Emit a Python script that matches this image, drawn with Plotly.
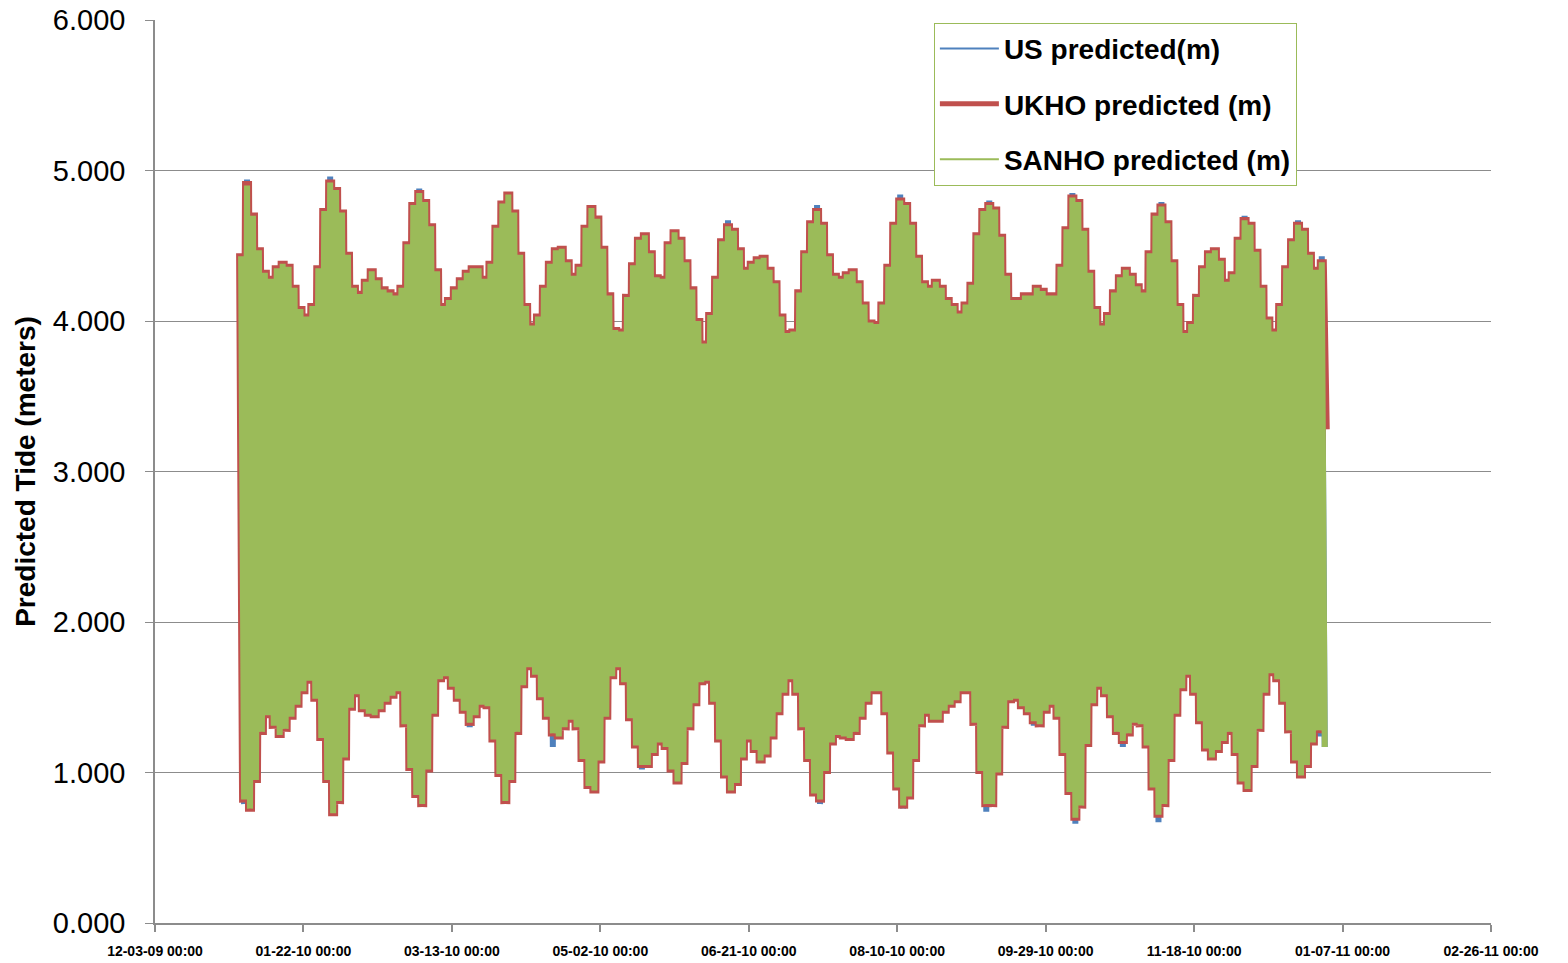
import pandas as pd
import plotly.graph_objects as go

# Daily time axis (one reading per day, alternating high water / low water envelope)
start_date = "2010-01-01"
n_days = 366

# UKHO predicted (m): high-water envelope on even days, low-water envelope on odd days
ukho_high = [
    4.45, 4.93, 4.72, 4.49, 4.34, 4.30, 4.37, 4.40, 4.38, 4.24,
    4.10, 4.05, 4.12, 4.37, 4.75, 4.94, 4.89, 4.74, 4.46, 4.24,
    4.20, 4.28, 4.35, 4.29, 4.23, 4.21, 4.19, 4.24, 4.53, 4.79,
    4.87, 4.81, 4.65, 4.35, 4.12, 4.16, 4.23, 4.29, 4.34, 4.37,
    4.37, 4.30, 4.40, 4.64, 4.80, 4.86, 4.74, 4.46, 4.12, 3.99,
    4.05, 4.24, 4.40, 4.49, 4.50, 4.41, 4.32, 4.38, 4.64, 4.77,
    4.70, 4.50, 4.19, 3.96, 3.95, 4.18, 4.39, 4.56, 4.59, 4.47,
    4.31, 4.30, 4.53, 4.61, 4.56, 4.41, 4.23, 4.02, 3.87, 4.06,
    4.30, 4.55, 4.65, 4.62, 4.49, 4.36, 4.40, 4.43, 4.44, 4.36,
    4.27, 4.05, 3.94, 3.95, 4.21, 4.47, 4.67, 4.75, 4.66, 4.45,
    4.32, 4.30, 4.33, 4.35, 4.27, 4.13, 4.01, 4.00, 4.13, 4.38,
    4.66, 4.82, 4.79, 4.66, 4.44, 4.27, 4.24, 4.28, 4.24, 4.16,
    4.12, 4.07, 4.13, 4.26, 4.59, 4.75, 4.79, 4.76, 4.58, 4.32,
    4.16, 4.16, 4.19, 4.19, 4.24, 4.22, 4.19, 4.19, 4.38, 4.63,
    4.84, 4.81, 4.62, 4.34, 4.10, 3.99, 4.06, 4.21, 4.31, 4.36,
    4.32, 4.25, 4.21, 4.47, 4.72, 4.78, 4.67, 4.41, 4.12, 3.94,
    4.00, 4.18, 4.37, 4.47, 4.49, 4.42, 4.28, 4.33, 4.56, 4.69,
    4.66, 4.48, 4.24, 4.03, 3.95, 4.12, 4.37, 4.55, 4.66, 4.62,
    4.46, 4.36, 4.41,
]
ukho_low = [
    0.80, 0.74, 0.93, 1.25, 1.36, 1.29, 1.23, 1.27, 1.35, 1.43,
    1.52, 1.59, 1.47, 1.21, 0.93, 0.71, 0.79, 1.08, 1.41, 1.50,
    1.40, 1.37, 1.36, 1.40, 1.45, 1.49, 1.52, 1.30, 1.01, 0.83,
    0.77, 1.00, 1.37, 1.60, 1.62, 1.55, 1.47, 1.39, 1.31, 1.36,
    1.43, 1.42, 1.20, 0.97, 0.79, 0.93, 1.25, 1.56, 1.68, 1.63,
    1.48, 1.35, 1.24, 1.22, 1.28, 1.33, 1.28, 1.07, 0.89, 0.86,
    1.06, 1.35, 1.62, 1.68, 1.58, 1.34, 1.16, 1.03, 1.03, 1.11,
    1.18, 1.15, 1.00, 0.92, 1.05, 1.28, 1.44, 1.58, 1.59, 1.45,
    1.20, 0.96, 0.86, 0.91, 1.08, 1.20, 1.13, 1.06, 1.10, 1.22,
    1.38, 1.51, 1.60, 1.51, 1.28, 1.07, 0.84, 0.80, 0.99, 1.18,
    1.23, 1.22, 1.21, 1.25, 1.35, 1.45, 1.52, 1.52, 1.38, 1.12,
    0.88, 0.76, 0.82, 1.07, 1.30, 1.37, 1.33, 1.33, 1.39, 1.43,
    1.46, 1.52, 1.52, 1.31, 0.99, 0.77, 0.77, 0.98, 1.29, 1.46,
    1.47, 1.42, 1.38, 1.32, 1.30, 1.39, 1.43, 1.35, 1.11, 0.85,
    0.68, 0.76, 1.17, 1.44, 1.55, 1.50, 1.36, 1.25, 1.19, 1.24,
    1.31, 1.30, 1.16, 0.88, 0.70, 0.77, 1.07, 1.37, 1.54, 1.63,
    1.51, 1.32, 1.14, 1.08, 1.13, 1.19, 1.25, 1.11, 0.92, 0.87,
    1.03, 1.27, 1.51, 1.64, 1.60, 1.45, 1.26, 1.06, 0.96, 1.03,
    1.18, 1.26, 3.28,
]

# SANHO predicted (m)
sanho_high = [
    4.43, 4.90, 4.70, 4.47, 4.32, 4.28, 4.35, 4.38, 4.36, 4.22,
    4.08, 4.03, 4.10, 4.35, 4.73, 4.92, 4.87, 4.72, 4.44, 4.22,
    4.18, 4.26, 4.33, 4.27, 4.21, 4.19, 4.17, 4.22, 4.51, 4.77,
    4.85, 4.79, 4.63, 4.33, 4.10, 4.14, 4.21, 4.27, 4.32, 4.35,
    4.35, 4.28, 4.38, 4.62, 4.78, 4.84, 4.72, 4.44, 4.10, 3.97,
    4.03, 4.22, 4.38, 4.47, 4.48, 4.39, 4.30, 4.36, 4.62, 4.75,
    4.68, 4.48, 4.17, 3.94, 3.93, 4.16, 4.37, 4.54, 4.57, 4.45,
    4.29, 4.28, 4.51, 4.59, 4.54, 4.39, 4.21, 4.00, 3.85, 4.04,
    4.28, 4.53, 4.63, 4.60, 4.47, 4.34, 4.38, 4.41, 4.42, 4.34,
    4.25, 4.03, 3.92, 3.93, 4.19, 4.45, 4.65, 4.73, 4.64, 4.43,
    4.30, 4.28, 4.31, 4.33, 4.25, 4.11, 3.99, 3.98, 4.11, 4.36,
    4.64, 4.80, 4.77, 4.64, 4.42, 4.25, 4.22, 4.26, 4.22, 4.14,
    4.10, 4.05, 4.11, 4.24, 4.57, 4.73, 4.77, 4.74, 4.56, 4.30,
    4.14, 4.14, 4.17, 4.17, 4.22, 4.20, 4.17, 4.17, 4.36, 4.61,
    4.82, 4.79, 4.60, 4.32, 4.08, 3.97, 4.04, 4.19, 4.29, 4.34,
    4.30, 4.23, 4.19, 4.45, 4.70, 4.76, 4.65, 4.39, 4.10, 3.92,
    3.98, 4.16, 4.35, 4.45, 4.47, 4.40, 4.26, 4.31, 4.54, 4.67,
    4.64, 4.46, 4.22, 4.01, 3.93, 4.10, 4.35, 4.53, 4.64, 4.60,
    4.44, 4.34, 4.39,
]
sanho_low = [
    0.82, 0.76, 0.95, 1.27, 1.38, 1.31, 1.25, 1.29, 1.37, 1.45,
    1.54, 1.61, 1.49, 1.23, 0.95, 0.73, 0.81, 1.10, 1.43, 1.52,
    1.42, 1.39, 1.38, 1.42, 1.47, 1.51, 1.54, 1.32, 1.03, 0.85,
    0.79, 1.02, 1.39, 1.62, 1.64, 1.57, 1.49, 1.41, 1.33, 1.38,
    1.45, 1.44, 1.22, 0.99, 0.81, 0.95, 1.27, 1.58, 1.70, 1.65,
    1.50, 1.37, 1.26, 1.24, 1.30, 1.35, 1.30, 1.09, 0.91, 0.88,
    1.08, 1.37, 1.64, 1.70, 1.60, 1.36, 1.18, 1.05, 1.05, 1.13,
    1.20, 1.17, 1.02, 0.94, 1.07, 1.30, 1.46, 1.60, 1.61, 1.47,
    1.22, 0.98, 0.88, 0.93, 1.10, 1.22, 1.15, 1.08, 1.12, 1.24,
    1.40, 1.53, 1.62, 1.53, 1.30, 1.09, 0.86, 0.82, 1.01, 1.20,
    1.25, 1.24, 1.23, 1.27, 1.37, 1.47, 1.54, 1.54, 1.40, 1.14,
    0.90, 0.78, 0.84, 1.09, 1.32, 1.39, 1.35, 1.35, 1.41, 1.45,
    1.48, 1.54, 1.54, 1.33, 1.01, 0.79, 0.79, 1.00, 1.31, 1.48,
    1.49, 1.44, 1.40, 1.34, 1.32, 1.41, 1.45, 1.37, 1.13, 0.87,
    0.70, 0.78, 1.19, 1.46, 1.57, 1.52, 1.38, 1.27, 1.21, 1.26,
    1.33, 1.32, 1.18, 0.90, 0.72, 0.79, 1.09, 1.39, 1.56, 1.65,
    1.53, 1.34, 1.16, 1.10, 1.15, 1.21, 1.27, 1.13, 0.94, 0.89,
    1.05, 1.29, 1.53, 1.66, 1.62, 1.47, 1.28, 1.08, 0.98, 1.05,
    1.20, 1.28, 1.17,
]

# US predicted (m)
us_high = [
    4.43, 4.94, 4.70, 4.47, 4.32, 4.28, 4.35, 4.38, 4.36, 4.22,
    4.08, 4.03, 4.10, 4.35, 4.73, 4.96, 4.87, 4.72, 4.44, 4.22,
    4.18, 4.26, 4.33, 4.27, 4.21, 4.19, 4.17, 4.22, 4.51, 4.77,
    4.88, 4.79, 4.63, 4.33, 4.10, 4.14, 4.21, 4.27, 4.32, 4.35,
    4.35, 4.28, 4.38, 4.62, 4.78, 4.84, 4.72, 4.44, 4.10, 3.97,
    4.03, 4.22, 4.38, 4.47, 4.48, 4.39, 4.30, 4.36, 4.62, 4.75,
    4.68, 4.48, 4.17, 3.94, 3.93, 4.16, 4.37, 4.54, 4.57, 4.45,
    4.29, 4.28, 4.51, 4.59, 4.54, 4.39, 4.21, 4.00, 3.85, 4.04,
    4.28, 4.53, 4.67, 4.60, 4.47, 4.34, 4.38, 4.41, 4.42, 4.34,
    4.25, 4.03, 3.92, 3.93, 4.19, 4.45, 4.65, 4.77, 4.64, 4.43,
    4.30, 4.28, 4.31, 4.33, 4.25, 4.11, 3.99, 3.98, 4.11, 4.36,
    4.64, 4.84, 4.77, 4.64, 4.42, 4.25, 4.22, 4.26, 4.22, 4.14,
    4.10, 4.05, 4.11, 4.24, 4.57, 4.73, 4.80, 4.74, 4.56, 4.30,
    4.14, 4.14, 4.17, 4.17, 4.22, 4.20, 4.17, 4.17, 4.36, 4.61,
    4.85, 4.79, 4.60, 4.32, 4.08, 3.97, 4.04, 4.19, 4.29, 4.34,
    4.30, 4.23, 4.19, 4.45, 4.70, 4.79, 4.65, 4.39, 4.10, 3.92,
    3.98, 4.16, 4.35, 4.45, 4.47, 4.40, 4.26, 4.31, 4.54, 4.70,
    4.64, 4.46, 4.22, 4.01, 3.93, 4.10, 4.35, 4.53, 4.67, 4.60,
    4.44, 4.34, 4.43,
]
us_low = [
    0.79, 0.76, 0.95, 1.27, 1.38, 1.31, 1.25, 1.29, 1.37, 1.45,
    1.54, 1.61, 1.49, 1.23, 0.95, 0.73, 0.81, 1.10, 1.43, 1.52,
    1.42, 1.39, 1.38, 1.42, 1.47, 1.51, 1.54, 1.32, 1.03, 0.85,
    0.79, 1.02, 1.39, 1.62, 1.64, 1.57, 1.49, 1.41, 1.30, 1.38,
    1.45, 1.44, 1.22, 0.99, 0.81, 0.95, 1.27, 1.58, 1.70, 1.65,
    1.50, 1.37, 1.17, 1.24, 1.30, 1.35, 1.30, 1.09, 0.91, 0.88,
    1.08, 1.37, 1.64, 1.70, 1.60, 1.36, 1.18, 1.02, 1.05, 1.13,
    1.20, 1.17, 1.02, 0.94, 1.07, 1.30, 1.46, 1.60, 1.61, 1.47,
    1.22, 0.98, 0.88, 0.93, 1.10, 1.22, 1.15, 1.08, 1.12, 1.24,
    1.40, 1.53, 1.62, 1.53, 1.30, 1.09, 0.86, 0.79, 1.01, 1.20,
    1.25, 1.24, 1.23, 1.27, 1.37, 1.47, 1.54, 1.54, 1.40, 1.14,
    0.90, 0.76, 0.84, 1.09, 1.32, 1.39, 1.35, 1.35, 1.41, 1.45,
    1.48, 1.54, 1.54, 1.33, 1.01, 0.74, 0.79, 1.00, 1.31, 1.48,
    1.49, 1.44, 1.40, 1.31, 1.32, 1.41, 1.45, 1.37, 1.13, 0.87,
    0.66, 0.78, 1.19, 1.46, 1.57, 1.52, 1.38, 1.27, 1.17, 1.26,
    1.33, 1.32, 1.18, 0.90, 0.67, 0.79, 1.09, 1.39, 1.56, 1.65,
    1.53, 1.34, 1.16, 1.10, 1.15, 1.21, 1.27, 1.13, 0.94, 0.89,
    1.05, 1.29, 1.53, 1.66, 1.62, 1.47, 1.28, 1.08, 0.98, 1.05,
    1.20, 1.24, 1.17,
]

series_names = ["US predicted(m)", "UKHO predicted (m)", "SANHO predicted (m)"]
series_colors = ["#4f81bd", "#c0504d", "#9bbb59"]
series_widths = [6, 10, 6]
legend_widths = [2, 5, 2]

x_tick_start = "2009-12-03"
x_range = ["2009-12-03", "2011-02-26"]
y_range = [0, 6]

dates = pd.date_range(start_date, periods=n_days, freq="D")


def interleave(highs, lows):
    out = []
    for h, l in zip(highs, lows):
        out.append(h)
        out.append(l)
    return out


series_values = [
    interleave(us_high, us_low),
    interleave(ukho_high, ukho_low),
    interleave(sanho_high, sanho_low),
]

fig = go.Figure()
for name, vals, color, width in zip(series_names, series_values, series_colors, series_widths):
    fig.add_trace(go.Scatter(
        x=dates, y=vals, mode="lines", name=name, legendgroup=name, showlegend=False,
        line=dict(color=color, width=width, simplify=False),
        hoverinfo="skip",
    ))
# legend keys for the same series (thin / thick line look of the reference key)
for name, color, lw in zip(series_names, series_colors, legend_widths):
    fig.add_trace(go.Scatter(
        x=[None], y=[None], mode="lines", name=name, legendgroup=name,
        line=dict(color=color, width=lw), hoverinfo="skip",
    ))

axis_gray = "#8c8c8c"
fig.update_layout(
    width=1568, height=963,
    margin=dict(l=155, r=77, t=20, b=40, autoexpand=False),
    paper_bgcolor="white", plot_bgcolor="white",
    showlegend=True,
    legend=dict(
        x=0.583, y=0.997, xanchor="left", yanchor="top",
        bgcolor="white", bordercolor="#9bbb59", borderwidth=1,
        font=dict(family="Liberation Sans, Arial, sans-serif", size=28, color="#000000", weight="bold"),
        tracegroupgap=16, itemwidth=59,
    ),
    xaxis=dict(
        type="date", range=x_range, automargin=False,
        tick0=x_tick_start, dtick=50 * 86400000,
        tickformat="%m-%d-%y %H:%M",
        showgrid=False, showline=True, linecolor=axis_gray, linewidth=1.5,
        ticks="outside", ticklen=7, tickcolor=axis_gray, tickwidth=1.5,
        ticklabelstandoff=7, ticklabeloverflow="allow",
        tickfont=dict(family="Liberation Sans, Arial, sans-serif", size=14,
                      color="#000000", weight="bold"),
        zeroline=False,
    ),
    yaxis=dict(
        range=y_range, dtick=1, tickformat=".3f", automargin=False,
        showgrid=True, gridcolor=axis_gray, gridwidth=1.3,
        showline=True, linecolor=axis_gray, linewidth=1.5,
        ticks="outside", ticklen=8, tickcolor=axis_gray, tickwidth=1.3,
        ticklabelstandoff=14, ticklabeloverflow="allow",
        tickfont=dict(family="Liberation Sans, Arial, sans-serif", size=29, color="#000000"),
        title=dict(text="Predicted Tide (meters)", standoff=9,
                   font=dict(family="Liberation Sans, Arial, sans-serif", size=28,
                             color="#000000", weight="bold")),
        zeroline=False,
    ),
)

# remove the default 8px page margin so the figure fills the window exactly
fig.write_html("out.html", config={"displayModeBar": False},
               post_script="document.body.style.margin='0';")
